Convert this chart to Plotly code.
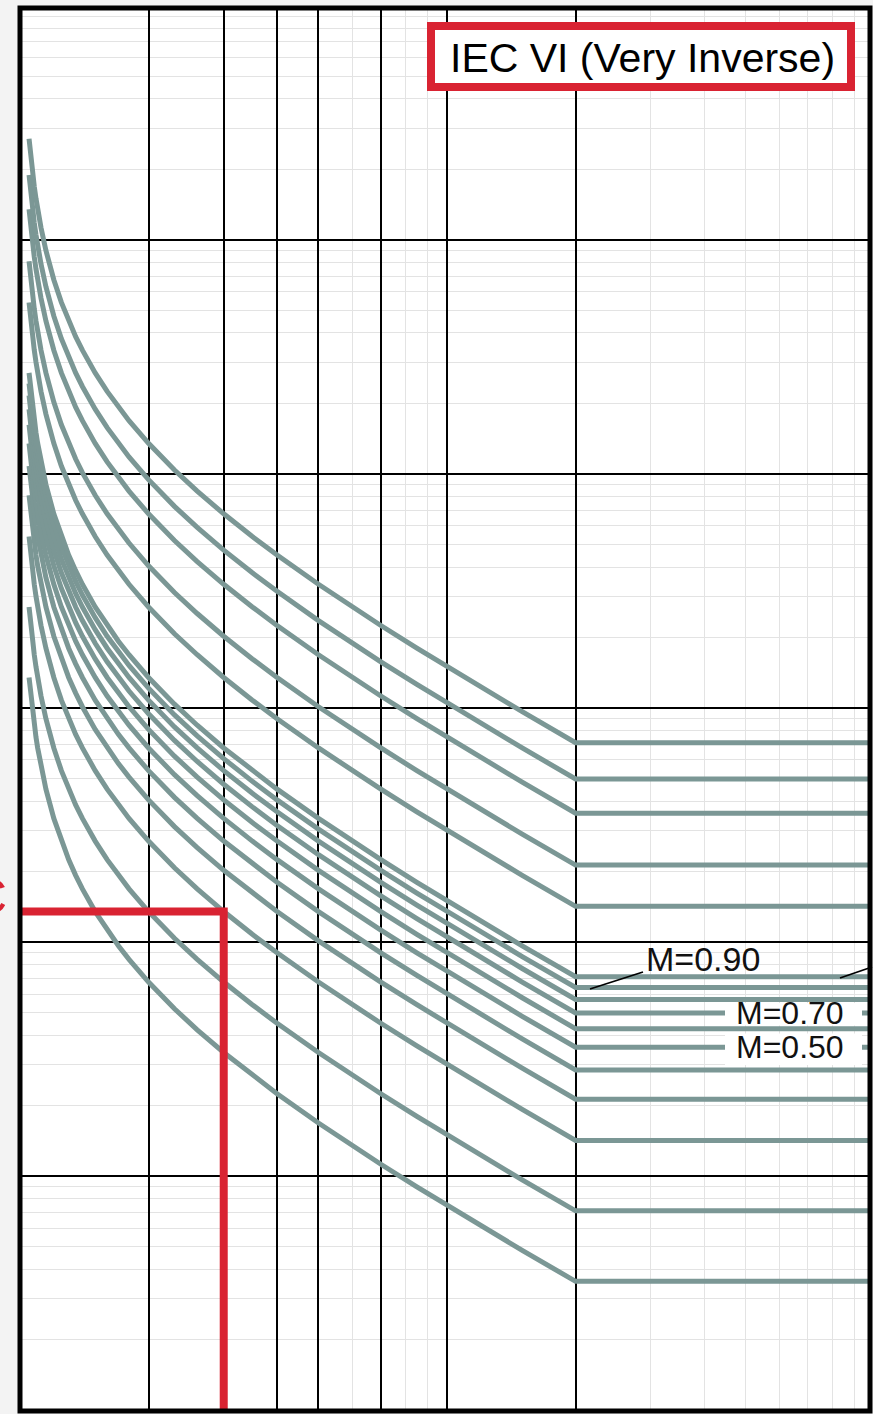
import plotly.graph_objects as go

# ---------------- data ----------------
# multiples of pickup current (x) and operating time (s) along the M=1.0 curve
current_multiple = [1.05, 1.06, 1.07, 1.08, 1.09, 1.10, 1.12, 1.15, 1.20, 1.25, 1.30, 1.35,
                    1.40, 1.50, 1.60, 1.70, 1.80, 2.0, 2.3, 2.6, 3.0, 3.5, 4.0, 5.0,
                    6.0, 7.0, 8.5, 10.0, 12.0, 15.0, 20.0, 100.0]
time_at_m1 = [270.0, 225.0, 192.9, 168.8, 150.0, 135.0, 112.5, 90.0, 67.5, 54.0, 45.0, 38.57,
              33.75, 27.0, 22.5, 19.29, 16.88, 13.5, 10.38, 8.44, 6.75, 5.40, 4.50, 3.375,
              2.70, 2.25, 1.80, 1.50, 1.227, 0.964, 0.711, 0.711]
# time multiplier settings of the plotted curves
time_multipliers = [0.05, 0.1, 0.2, 0.3, 0.4, 0.5, 0.6, 0.7, 0.8, 0.9, 1.0, 2.0, 3.0, 5.0, 7.0, 10.0]

# red example read-off: 3x pickup -> time
example_current = [1.0, 3.0, 3.0]
example_time = [1.35, 1.35, 0.009]

x_major = [2, 3, 4, 5, 7, 10, 20]
x_minor = [6, 8, 9, 30, 40, 50, 60, 70, 80, 90]
y_major = [0.1, 1, 10, 100, 1000]
y_minor = [k * 10 ** e for e in range(-2, 4) for k in range(2, 10)]

title_text = "IEC VI (Very Inverse)"
CURVE_COLOR = "#7b9795"
RED = "#d92332"

# ---------------- figure ----------------
W, H = 873, 1414
L, R, T, B = 20, 3, 8, 3
PW, PH = W - L - R, H - T - B


def px(xpix):
    return (xpix - L) / PW


def py(ypix):
    return (H - B - ypix) / PH


fig = go.Figure()
for m in time_multipliers:
    fig.add_trace(go.Scatter(
        x=current_multiple, y=[t * m for t in time_at_m1], mode="lines",
        line=dict(color=CURVE_COLOR, width=5), hoverinfo="skip", showlegend=False))

fig.add_trace(go.Scatter(
    x=example_current, y=example_time, mode="lines",
    line=dict(color=RED, width=8), hoverinfo="skip", showlegend=False))

shapes = []
# white patches behind the in-line labels
for (x0, x1, y0, y1) in [(725, 862, 1003, 1025.5), (725, 862, 1033.5, 1065)]:
    shapes.append(dict(type="rect", xref="paper", yref="paper", x0=px(x0), x1=px(x1),
                       y0=py(y1), y1=py(y0), line=dict(width=0), fillcolor="white", layer="above"))
# leader lines
for (xa, ya, xb, yb) in [(590, 989, 643, 972), (840, 978, 872, 967)]:
    shapes.append(dict(type="line", xref="paper", yref="paper", x0=px(xa), y0=py(ya),
                       x1=px(xb), y1=py(yb), line=dict(color="black", width=1.8), layer="above"))
# title box
shapes.append(dict(type="rect", xref="paper", yref="paper", x0=px(431), x1=px(851),
                   y0=py(87), y1=py(26), line=dict(color=RED, width=8), fillcolor="white",
                   layer="above"))
# frame
shapes.append(dict(type="rect", xref="paper", yref="paper", x0=0, x1=1, y0=0, y1=1,
                   line=dict(color="black", width=5), layer="above"))

annotations = [
    dict(text=title_text, xref="paper", yref="paper", x=px(642), y=py(58),
         xanchor="center", yanchor="middle", showarrow=False,
         font=dict(family="Liberation Sans, Arial, sans-serif", size=41, color="black")),
    dict(text="M=0.90", xref="paper", yref="paper", x=px(703), y=py(959),
         xanchor="center", yanchor="middle", showarrow=False,
         font=dict(family="Liberation Sans, Arial, sans-serif", size=34, color="#111")),
    dict(text="M=0.70", xref="paper", yref="paper", x=px(790), y=py(1013),
         xanchor="center", yanchor="middle", showarrow=False,
         font=dict(family="Liberation Sans, Arial, sans-serif", size=32, color="#111")),
    dict(text="M=0.50", xref="paper", yref="paper", x=px(790), y=py(1047),
         xanchor="center", yanchor="middle", showarrow=False,
         font=dict(family="Liberation Sans, Arial, sans-serif", size=32, color="#111")),
    dict(text="C", xref="paper", yref="paper", x=px(9), y=py(897),
         xanchor="right", yanchor="middle", showarrow=False,
         font=dict(family="Liberation Sans, Arial, sans-serif", size=50, color=RED)),
]

axis_common = dict(type="log", showticklabels=False, ticks="", zeroline=False,
                   showline=False, showgrid=True, gridcolor="black", gridwidth=2.2)

fig.update_layout(
    width=W, height=H, margin=dict(l=L, r=R, t=T, b=B, pad=0),
    paper_bgcolor="#f3f3f3", plot_bgcolor="white",
    xaxis=dict(range=[0, 1.9906], tickvals=x_major,
               minor=dict(tickvals=x_minor, showgrid=True, gridcolor="#e3e3e3", gridwidth=1, ticks=""),
               **axis_common),
    yaxis=dict(range=[-2.003, 3.99], tickvals=y_major,
               minor=dict(tickvals=y_minor, showgrid=True, gridcolor="#e3e3e3", gridwidth=1, ticks=""),
               **axis_common),
    shapes=shapes, annotations=annotations, showlegend=False,
)

fig.write_html("out.html", config={"displayModeBar": False},
               post_script="document.body.style.margin='0';document.body.style.overflow='hidden';")
